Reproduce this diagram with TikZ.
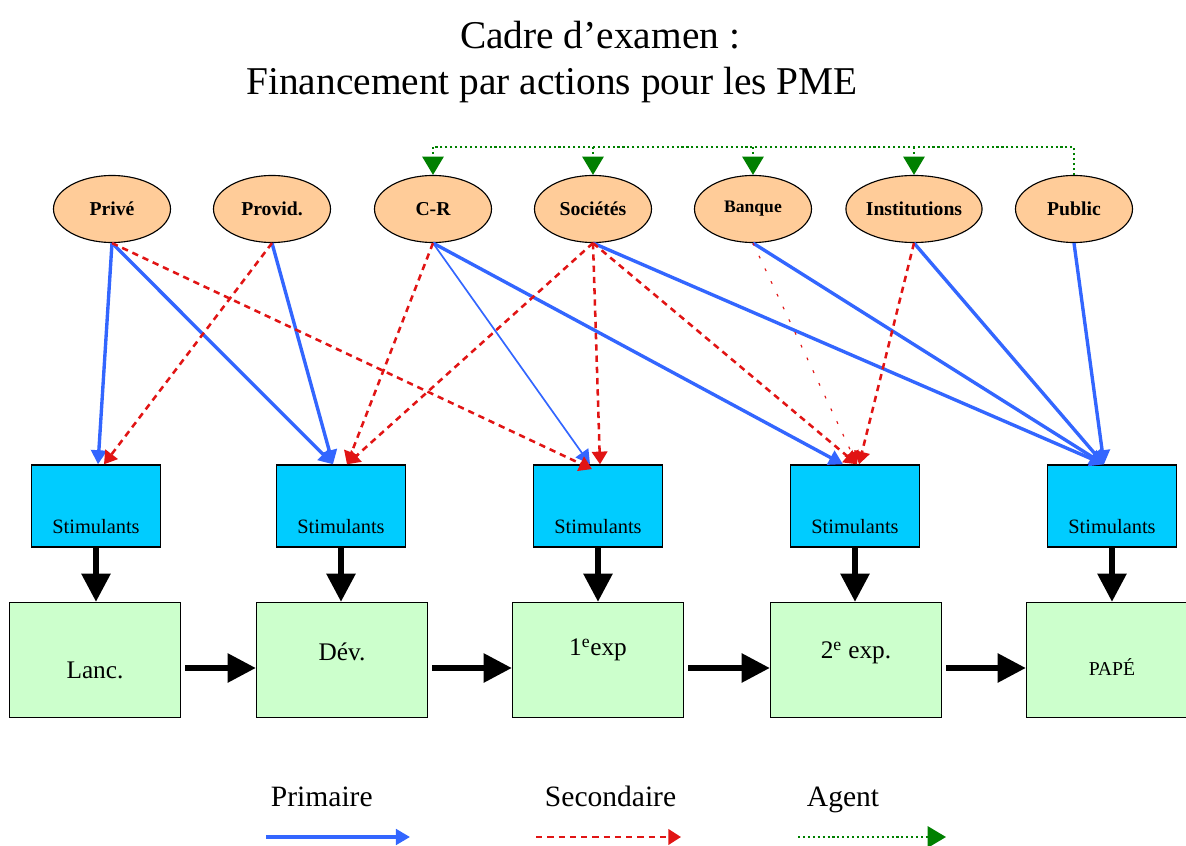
\documentclass[tikz,border=0pt]{standalone}
\usepackage{fontspec}
\setmainfont{Liberation Serif}
\usetikzlibrary{arrows.meta,shapes.geometric}

\definecolor{peach}{RGB}{255,204,153}
\definecolor{stimcol}{RGB}{0,204,255}
\definecolor{stagecol}{RGB}{204,255,204}
\definecolor{primcol}{RGB}{51,102,255}
\definecolor{seccol}{RGB}{225,20,20}
\definecolor{agentcol}{RGB}{0,128,0}

\begin{document}
\begin{tikzpicture}[x=0.025cm,y=-0.025cm,
    src node/.style={ellipse,draw,line width=0.8pt,fill=peach,inner sep=0pt,minimum width=2.925cm,minimum height=1.675cm,font=\bfseries\fontsize{14}{16}\selectfont},
    stim node/.style={rectangle,draw,line width=1pt,fill=stimcol,minimum width=3.225cm,minimum height=2.05cm,
        label={[font=\fontsize{14.5}{16}\selectfont,yshift=-0.525cm]center:Stimulants}},
    stage node/.style={rectangle,draw,line width=1pt,fill=stagecol,minimum width=4.275cm,minimum height=2.875cm},
    stage text/.style={font=\fontsize{18}{20}\selectfont},
    primary/.style={draw=primcol,line width=2.4pt,-{Triangle[width=11pt,length=10pt]}},
    primary thin/.style={primary,line width=1.2pt},
    secondary/.style={draw=seccol,line width=1.8pt,dash pattern=on 4.5pt off 3.5pt,-{Triangle[width=11pt,length=9pt]}},
    secondary faint/.style={secondary,line width=0.8pt,dash pattern=on 2pt off 8pt},
    agent/.style={draw=agentcol,line width=1.8pt,dash pattern=on 1.5pt off 2pt},
    agent tip/.style={agent,-{Triangle[width=15pt,length=13pt]}},
    flow/.style={draw=black,line width=3.8pt,-{Triangle[width=20pt,length=20pt]}},
    legend/.style={font=\fontsize{21}{24}\selectfont,anchor=base west}]
    \useasboundingbox (0,0) rectangle (1186,846);

    \node[font=\fontsize{28}{32}\selectfont,anchor=base] at (600,49) (title1) {Cadre d’examen :};
    \node[font=\fontsize{28}{32}\selectfont,anchor=base] at (552,95) (title2) {Financement par actions pour les PME};

    \node[src node] at (112, 209) (prive) {Privé};
    \node[src node] at (272, 209) (provid) {Provid.};
    \node[src node] at (433, 209) (cr) {C-R};
    \node[src node] at (593, 209) (societes) {Sociétés};
    \node[src node,font=\bfseries\fontsize{12.5}{14}\selectfont] at (753, 209) (banque) {Banque};
    \node[src node] at (914, 209) (institutions) {Institutions};
    \node[src node] at (1074, 209) (public) {Public};

    \node[stim node] at (96, 506) (s1) {};
    \node[stim node] at (341, 506) (s2) {};
    \node[stim node] at (598, 506) (s3) {};
    \node[stim node] at (855, 506) (s4) {};
    \node[stim node] at (1112, 506) (s5) {};

    \node[stage node] at (95, 660) (g1) {};
    \node[stage node] at (342, 660) (g2) {};
    \node[stage node] at (598, 660) (g3) {};
    \node[stage node] at (856, 660) (g4) {};
    \node[stage node] at (1112, 660) (g5) {};
    \node[stage text] at ([yshift=-0.25cm]g1.center) (t1) {Lanc.};
    \node[stage text] at ([yshift=0.2cm]g2.center) (t2) {Dév.};
    \node[stage text] at ([yshift=0.25cm]g3.center) (t3) {1\textsuperscript{e}exp};
    \node[stage text] at ([yshift=0.175cm]g4.center) (t4) {2\textsuperscript{e} exp.};
    \node[stage text,font=\fontsize{14}{16}\selectfont] at ([yshift=-0.175cm]g5.center) (t5) {PAPÉ};

    \foreach \i in {1,...,5}
        \draw[flow] (s\i.south) -- (s\i.south |- g\i.north);
    \foreach \i/\j in {1/2,2/3,3/4,4/5}
        \draw[flow,shorten <=0.1cm] ([yshift=-0.2cm]g\i.east) -- ([yshift=-0.2cm]g\j.west);

    \path
        (prive.south) edge[primary] ([xshift=0.05cm]s1.north)
        (prive.south) edge[primary] ([xshift=-0.2cm]s2.north)
        (provid.south) edge[primary] ([xshift=-0.2cm]s2.north)
        (cr.south) edge[primary thin] ([xshift=-0.2cm]s3.north)
        (cr.south) edge[primary] ([xshift=-0.3cm]s4.north)
        (societes.south) edge[primary] ([xshift=-0.2cm]s5.north)
        (banque.south) edge[primary] ([xshift=-0.2cm]s5.north)
        (institutions.south) edge[primary] ([xshift=-0.2cm]s5.north)
        (public.south) edge[primary] ([xshift=-0.2cm]s5.north)
        ;
    \path
        (prive.south) edge[secondary] ([xshift=-0.15cm,yshift=-0.12cm]s3.north)
        (provid.south) edge[secondary] ([xshift=0.2cm]s1.north)
        (cr.south) edge[secondary] ([xshift=0.15cm]s2.north)
        (societes.south) edge[secondary] ([xshift=0.15cm]s2.north)
        (societes.south) edge[secondary] ([xshift=0.05cm]s3.north)
        (societes.south) edge[secondary] ([xshift=0.05cm]s4.north)
        (banque.south) edge[secondary faint] ([xshift=0.05cm]s4.north)
        (institutions.south) edge[secondary] ([xshift=0.1cm]s4.north)
        ;

    \coordinate (agtop) at (0,147);
    \draw[agent] (public.north) -- (public.north |- agtop) -- (cr.north |- agtop);
    \foreach \n in {cr,societes,banque,institutions}
        \draw[agent tip] (\n.north |- agtop) -- (\n.north);

    \node[legend] at (266,806) (lp) {Primaire};
    \node[legend] at (540,806) (ls) {Secondaire};
    \node[legend] at (802,806) (la) {Agent};
    \coordinate (lp1) at (266,837);
    \coordinate (lp2) at (410,837);
    \coordinate (ls1) at (536,837);
    \coordinate (ls2) at (681,837);
    \coordinate (la1) at (798,837);
    \coordinate (la2) at (946,837);
    \draw[primary] (lp1) -- (lp2);
    \draw[secondary] (ls1) -- (ls2);
    \draw[agent tip] (la1) -- (la2);
\end{tikzpicture}
\end{document}
